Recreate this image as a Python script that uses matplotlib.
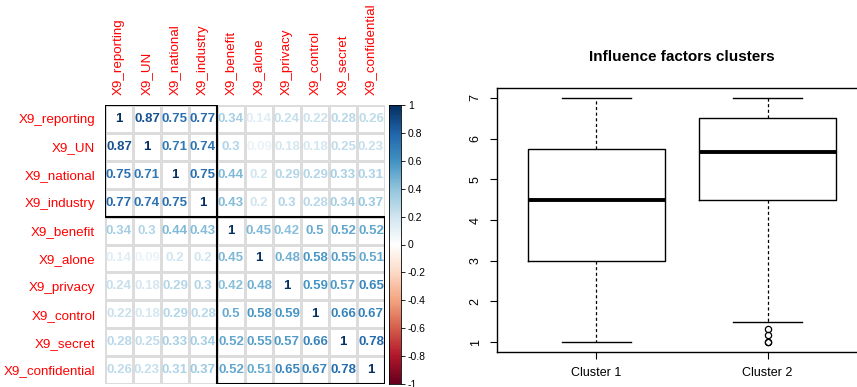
import numpy as np
import matplotlib.pyplot as plt
from matplotlib.colors import Normalize, LinearSegmentedColormap
from matplotlib.patches import Rectangle

plt.rcParams['font.family'] = ['Liberation Sans', 'DejaVu Sans']

# Correlation matrix data
variables = ["X9_reporting", "X9_UN", "X9_national", "X9_industry", "X9_benefit",
             "X9_alone", "X9_privacy", "X9_control", "X9_secret", "X9_confidential"]
corr = np.array([
    [1.00, 0.87, 0.75, 0.77, 0.34, 0.14, 0.24, 0.22, 0.28, 0.26],
    [0.87, 1.00, 0.71, 0.74, 0.30, 0.09, 0.18, 0.18, 0.25, 0.23],
    [0.75, 0.71, 1.00, 0.75, 0.44, 0.20, 0.29, 0.29, 0.33, 0.31],
    [0.77, 0.74, 0.75, 1.00, 0.43, 0.20, 0.30, 0.28, 0.34, 0.37],
    [0.34, 0.30, 0.44, 0.43, 1.00, 0.45, 0.42, 0.50, 0.52, 0.52],
    [0.14, 0.09, 0.20, 0.20, 0.45, 1.00, 0.48, 0.58, 0.55, 0.51],
    [0.24, 0.18, 0.29, 0.30, 0.42, 0.48, 1.00, 0.59, 0.57, 0.65],
    [0.22, 0.18, 0.29, 0.28, 0.50, 0.58, 0.59, 1.00, 0.66, 0.67],
    [0.28, 0.25, 0.33, 0.34, 0.52, 0.55, 0.57, 0.66, 1.00, 0.78],
    [0.26, 0.23, 0.31, 0.37, 0.52, 0.51, 0.65, 0.67, 0.78, 1.00],
])
cluster_sizes = [4, 6]
cbar_ticks = [-1, -0.8, -0.6, -0.4, -0.2, 0, 0.2, 0.4, 0.6, 0.8, 1]

# Boxplot summary data
cluster_names = ["Cluster 1", "Cluster 2"]
whisker_low = [1.0, 1.5]
q1 = [3.0, 4.5]
medians = [4.5, 5.67]
q3 = [5.75, 6.5]
whisker_high = [7.0, 7.0]
outliers = [[], [1.0, 1.0, 1.17, 1.33]]

W, H = 857, 387
fig = plt.figure(figsize=(W / 100, H / 100), dpi=100)

def px_axes(x0, y0, x1, y1):
    return fig.add_axes([x0 / W, 1 - y1 / H, (x1 - x0) / W, (y1 - y0) / H])

# corrplot-style RdBu palette (white centre)
cmap = LinearSegmentedColormap.from_list('corr_rdbu', [
    "#67001F", "#B2182B", "#D6604D", "#F4A582", "#FDDBC7", "#FFFFFF",
    "#D1E5F0", "#92C5DE", "#4393C3", "#2166AC", "#053061"])
norm = Normalize(-1, 1)

# ---- correlation plot ----
n = len(variables)
ax = px_axes(105, 105, 385, 384)
ax.pcolormesh(np.arange(n + 1), np.arange(n + 1), np.zeros((n, n)),
              cmap='Greys', vmin=0, vmax=1, edgecolors='#dcdcdc', linewidth=0.8)
for i in range(n):
    for j in range(n):
        v = corr[i, j]
        txt = f"{v:.2f}".rstrip('0').rstrip('.')
        ax.text(j + 0.5, i + 0.5, txt, ha='center', va='center', fontsize=9.5,
                fontweight='bold', color=cmap(norm(v)))
start = 0
for s in cluster_sizes:
    ax.add_patch(Rectangle((start, start), s, s, fill=False, ec='black', lw=1.5, zorder=5))
    start += s
ax.set_xlim(0, n)
ax.set_ylim(n, 0)
ax.set_xticks(np.arange(n) + 0.5)
ax.set_yticks(np.arange(n) + 0.5)
ax.set_xticklabels(variables, rotation=90, color='red', fontsize=9.6)
ax.set_yticklabels(variables, color='red', fontsize=9.6)
ax.xaxis.tick_top()
ax.tick_params(length=0, pad=7)
for sp in ax.spines.values():
    sp.set_visible(False)

cax = px_axes(389, 105, 401, 384)
grad = np.linspace(-1, 1, 200).reshape(-1, 1)
cax.imshow(grad, aspect='auto', cmap=cmap, norm=norm, origin='lower',
           extent=[0, 1, -1, 1])
cax.set_xticks([])
cax.yaxis.tick_right()
cax.set_yticks(cbar_ticks)
cax.set_yticklabels([f"{t:g}" for t in cbar_ticks], fontsize=7.5)
cax.tick_params(axis='y', length=3, width=0.6, pad=2)
for sp in cax.spines.values():
    sp.set_linewidth(0.6)

# ---- boxplot ----
bx = px_axes(497, 88, 867, 352)
stats = []
for k in range(len(cluster_names)):
    stats.append(dict(whislo=whisker_low[k], q1=q1[k], med=medians[k], q3=q3[k],
                      whishi=whisker_high[k], fliers=outliers[k], label=cluster_names[k]))
bx.bxp(stats, positions=[1, 2], widths=0.8, capwidths=0.4, showfliers=True,
       boxprops=dict(color='black', linewidth=1),
       medianprops=dict(color='black', linewidth=2.8),
       whiskerprops=dict(color='black', linewidth=0.9, linestyle=(0, (2.5, 2))),
       capprops=dict(color='black', linewidth=1),
       flierprops=dict(marker='o', markerfacecolor='none', markeredgecolor='black',
                       markersize=4.5, markeredgewidth=0.9))
bx.set_xlim(0.42, 2.58)
bx.set_ylim(0.76, 7.24)
bx.set_yticks(range(1, 8))
bx.set_yticklabels([str(t) for t in range(1, 8)], rotation=90, va='center', fontsize=9)
bx.set_xticks([1, 2])
bx.set_xticklabels(cluster_names, fontsize=9)
bx.tick_params(length=5, width=0.8, pad=6)
for sp in bx.spines.values():
    sp.set_linewidth(1)
fig.text(682 / W, 1 - 57 / H, "Influence factors clusters", ha='center', va='center',
         fontsize=11, fontweight='bold')

fig.savefig('out.png', dpi=100)
